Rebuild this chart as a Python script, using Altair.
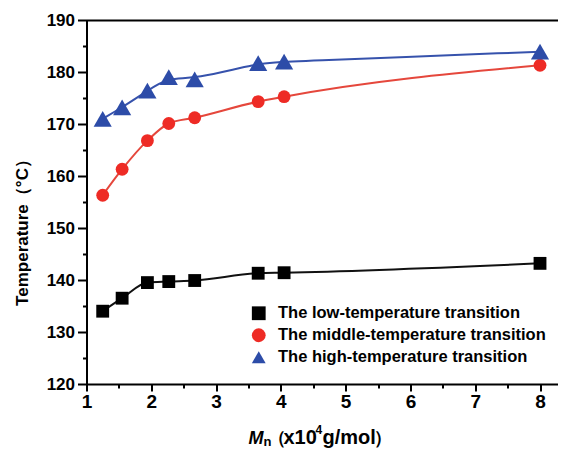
import altair as alt
import pandas as pd

# ---- data ----
x_mn = [1.25, 1.55, 1.94, 2.27, 2.67, 3.65, 4.05, 8.0]
low_t = [134.0, 136.5, 139.5, 139.7, 139.9, 141.3, 141.4, 143.2]
mid_t = [156.3, 161.3, 166.8, 170.1, 171.2, 174.3, 175.25, 181.3]
high_t = [171.0, 173.2, 176.4, 179.0, 178.6, 181.7, 182.0, 183.9]
series_names = [
    "The low-temperature transition",
    "The middle-temperature transition",
    "The high-temperature transition",
]
x_ticks = [1, 1.5, 2, 2.5, 3, 3.5, 4, 4.5, 5, 5.5, 6, 6.5, 7, 7.5, 8]
y_ticks = list(range(120, 195, 5))
y_title = "Temperature（°C）"
x_title_parts = ["M", "n", "（", "x10", "4", "g/mol", "）"]

rows = []
for name, vals in zip(series_names, [low_t, mid_t, high_t]):
    for xv, yv in zip(x_mn, vals):
        rows.append({"Mn": xv, "T": yv, "series": name})
df = pd.DataFrame(rows)

FONT = "Liberation Sans"
xscale = alt.Scale(domain=[1, 8.27], nice=False, zero=False)
yscale = alt.Scale(domain=[120, 190], nice=False, zero=False)

x_axis = alt.Axis(
    values=x_ticks,
    labelExpr="datum.value % 1 === 0 ? format(datum.value, 'd') : ''",
    tickSize={"condition": {"test": "datum.value % 1 === 0", "value": 7}, "value": 4},
    tickWidth=2, tickColor="black", domainWidth=2, domainColor="black",
    labelFont=FONT, labelFontWeight="bold", labelFontSize=19, labelColor="black",
    labelPadding=1, labelFlush=False, grid=False, title=None,
)
y_axis = alt.Axis(
    values=y_ticks,
    labelExpr="datum.value % 10 === 0 ? format(datum.value, 'd') : ''",
    tickSize={"condition": {"test": "datum.value % 10 === 0", "value": 9}, "value": 4},
    tickWidth=2, tickColor="black", domainWidth=2, domainColor="black",
    labelFont=FONT, labelFontWeight="bold", labelFontSize=17, labelColor="black",
    labelPadding=3, labelFlush=False, grid=False,
    title=y_title, titleFont=FONT, titleFontSize=17, titleFontWeight="bold",
    titleColor="black", titleAngle=270, titleX=-64, titleY=208,
    titleAlign="center", titleBaseline="middle",
)
top_axis = alt.Axis(orient="top", labels=False, ticks=False, title=None,
                    domainWidth=2, domainColor="black", grid=False)

colors = ["#000000", "#ee2b25", "#2d4ca8"]
line_colors = ["#111111", "#e5473c", "#3652ac"]
shapes = ["square", "circle", "triangle-up"]

base = alt.Chart(df)

def line_layer(i, interp, axis):
    return base.transform_filter(alt.datum.series == series_names[i]).mark_line(
        interpolate=interp, strokeWidth=2, color=line_colors[i]
    ).encode(
        x=alt.X("Mn:Q", scale=xscale, axis=axis),
        y=alt.Y("T:Q", scale=yscale, axis=y_axis),
    )

lines = [
    line_layer(0, "monotone", None),
    line_layer(1, "monotone", None),
    line_layer(2, "basis", top_axis),
]

points = base.mark_point(filled=True, opacity=1, strokeWidth=0).encode(
    x=alt.X("Mn:Q", scale=xscale, axis=x_axis),
    y=alt.Y("T:Q", scale=yscale, axis=y_axis),
    color=alt.Color("series:N", scale=alt.Scale(domain=series_names, range=colors),
                    legend=alt.Legend(orient="none", legendX=164, legendY=285, title=None,
                                      labelFont=FONT, labelFontSize=16.5, labelFontWeight="bold",
                                      labelColor="black", symbolSize=190, labelOffset=11,
                                      rowPadding=5, padding=0, symbolStrokeWidth=0,
                                      labelLimit=400)),
    shape=alt.Shape("series:N", scale=alt.Scale(domain=series_names, range=shapes)),
    size=alt.condition(alt.datum.series == series_names[2], alt.value(330), alt.value(165)),
)

def title_part(i, px, py, fs, style="normal"):
    return alt.Chart(pd.DataFrame({"t": [x_title_parts[i]]})).mark_text(
        font=FONT, fontSize=fs, fontWeight="bold", fontStyle=style, color="black",
        align="left", baseline="alphabetic"
    ).encode(text="t:N", x=alt.value(px), y=alt.value(py))

titles = [
    title_part(0, 162, 424, 18, "italic"),
    title_part(1, 177, 426, 13),
    title_part(2, 181, 424, 18),
    title_part(3, 197, 424, 20),
    title_part(4, 229, 414, 12),
    title_part(5, 236, 424, 20),
    title_part(6, 287, 424, 18),
]

chart = alt.layer(*lines, points, *titles).resolve_axis(x="independent").properties(
    width=471, height=364,
    autosize=alt.AutoSizeParams(type="none"),
    padding={"left": 78.5, "top": 12, "right": 0, "bottom": 66},
    background="white",
).configure_view(stroke=None)

chart.save("out.html", embed_options={"renderer": "svg", "actions": False})
